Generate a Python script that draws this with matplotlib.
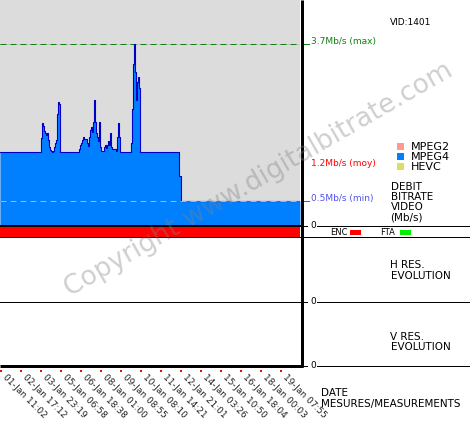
import numpy as np
import matplotlib
matplotlib.use("Agg")
import matplotlib.pyplot as plt
from matplotlib.patches import Rectangle
from matplotlib import transforms

# ---------------- data ----------------
base_rate = 1.49          # Mb/s, first period plateau
low_rate = 0.49           # Mb/s, second period plateau
burst_1 = [1.78, 2.09, 2.02, 1.92, 1.88, 1.84, 1.88, 1.74, 1.59, 1.53,
           1.51, 1.50, 1.51, 1.59, 1.68, 1.74, 2.27, 2.51, 2.47]
burst_2 = [1.55, 1.64, 1.68, 1.74, 1.80, 1.76, 1.76, 1.76, 1.68, 1.61,
           1.80, 1.94, 2.00, 1.90, 2.11, 2.56, 2.11, 1.88, 1.80, 1.72,
           2.11, 1.59, 1.51, 1.51, 1.51, 1.59, 1.64, 1.57, 1.64, 1.72,
           1.64, 1.88, 1.59, 1.55, 1.55, 1.55, 1.55, 1.51, 1.80, 2.09,
           1.80]
burst_3 = [1.68, 2.37, 3.29, 3.70, 3.13, 2.56, 2.92, 3.03, 2.80]
transition = [1.01, 1.01]
bitrate = np.array([base_rate] * 41 + burst_1 + [base_rate] * 19 + burst_2
                   + [base_rate] * 11 + burst_3 + [base_rate] * 39
                   + transition + [low_rate] * 120)

max_rate, mean_rate, min_rate = 3.7, 1.2, 0.5
date_labels = ["01-Jan 11:02", "02-Jan 17:12", "03-Jan 23:19", "05-Jan 06:58",
               "06-Jan 18:38", "08-Jan 01:00", "09-Jan 08:55", "10-Jan 08:10",
               "11-Jan 14:21", "12-Jan 21:01", "14-Jan 03:26", "15-Jan 10:50",
               "16-Jan 18:04", "18-Jan 00:03", "19-Jan 07:55"]
samples_per_tick = 20
codecs = ["MPEG2", "MPEG4", "HEVC"]
codec_colors = ["#FF9999", "#0080FF", "#DDDD66"]
vid_label = "VID:1401"

# ---------------- layout helpers (pixels) ----------------
W, H = 470, 430
PX_PER_MB = 48.92
PX = 0.72  # one pixel in points


def fr(x0, y0, x1, y1):
    return [x0 / W, 1 - y1 / H, (x1 - x0) / W, (y1 - y0) / H]


plt.rcParams["font.family"] = ["DejaVu Sans"]
fig = plt.figure(figsize=(W / 100, H / 100), dpi=100)

# ---------------- bitrate panel ----------------
ax = fig.add_axes(fr(0, 0, 300, 225))
ax.set_facecolor("#DCDCDC")
x = np.arange(len(bitrate))
ax.fill_between(x, bitrate, step="post", color="#0080FF", lw=0, zorder=2)
ax.step(x, bitrate, where="post", color="#0000C8", lw=PX * 1.1, zorder=3)
ax.set_xlim(0, 300)
ax.set_ylim(0, 225 / PX_PER_MB)
ax.axhline(max_rate, color="#C4C4C4", lw=PX, zorder=1)
ax.axhline(max_rate, color="#108010", lw=PX, ls=(0, (6, 4)), zorder=1.5)
ax.axhline(min_rate, color="#5050F0", lw=PX, zorder=4)
ax.axhline(min_rate, color="#D0A0C8", lw=PX, ls=(0, (6, 4)), zorder=4.5)
ax.set_xticks([])
ax.set_yticks([])
for s in ax.spines.values():
    s.set_visible(False)

blend = transforms.blended_transform_factory(ax.transAxes, ax.transData)
fs_small = 6.5
for val, col, txt, tick in [(max_rate, "#108010", "3.7Mb/s (max)", True),
                            (mean_rate, "#FF0000", "1.2Mb/s (moy)", False),
                            (min_rate, "#5050F0", "0.5Mb/s (min)", True)]:
    if tick:
        ax.plot([303 / 300, 309 / 300], [val, val], color=col, lw=PX,
                transform=blend, clip_on=False)
    ax.text(311 / 300, val, txt, color=col, fontsize=fs_small,
            transform=blend, ha="left", va="baseline")

# ---------------- V resolution panel (carries the date axis) ----------------
ax_v = fig.add_axes(fr(0, 302, 300, 366))
ax_v.set_xlim(0, 300)
ax_v.set_ylim(0, 1)
ax_v.patch.set_alpha(0)
for s in ax_v.spines.values():
    s.set_visible(False)
ax_v.set_yticks([])
tick_pos = np.arange(len(date_labels)) * samples_per_tick
ax_v.set_xticks(tick_pos + 7)
ax_v.set_xticklabels(date_labels, rotation=-45, ha="left", va="top",
                     rotation_mode="anchor", fontsize=fs_small, color="#222222")
ax_v.tick_params(axis="x", length=0, pad=5.0)
dot_tr = transforms.blended_transform_factory(ax_v.transData, ax_v.transAxes) + \
    transforms.ScaledTranslation(0, -5 / 100, fig.dpi_scale_trans)
ax_v.plot(tick_pos + 0.5, np.zeros(len(tick_pos)), "s", color="#FF0000",
          ms=2 * PX, mew=0, transform=dot_tr, clip_on=False)

# ---------------- overlay (frame, labels) ----------------
ov = fig.add_axes([0, 0, 1, 1], zorder=5)
ov.set_xlim(0, W)
ov.set_ylim(H, 0)
ov.axis("off")
ov.patch.set_alpha(0)

ov.add_patch(Rectangle((0, 227), 300, 9.5, color="#FF0000", lw=0))
ov.plot([0, 301], [226, 226], color="black", lw=2 * PX)
ov.plot([0, 470], [237, 237], color="black", lw=PX)
ov.plot([0, 301], [302, 302], color="black", lw=PX)
ov.plot([0, 303], [365.5, 365.5], color="black", lw=3 * PX, solid_capstyle="butt")
ov.plot([301.5, 301.5], [0, 367], color="black", lw=3 * PX, solid_capstyle="butt")
for yy in (226, 302, 366):
    ov.plot([317, 470], [yy, yy], color="black", lw=PX)
    ov.plot([303, 307], [yy, yy], color="black", lw=PX)
    ov.text(310, yy, "0", fontsize=fs_small, ha="left", va="center")

ov.text(390, 25, vid_label, fontsize=fs_small, ha="left", va="baseline")

for i, (name, col) in enumerate(zip(codecs, codec_colors)):
    yy = 143 + 10 * i
    ov.add_patch(Rectangle((397, yy), 7, 7, color=col, lw=0))
    ov.text(411, yy + 7.5, name, fontsize=8, ha="left", va="baseline")

fs_med = 7.5
for i, line in enumerate(["DEBIT", "BITRATE", "VIDEO", "(Mb/s)"]):
    ov.text(390.5, 190 + 10 * i, line, fontsize=fs_med, ha="left", va="baseline")

ov.text(330, 235, "ENC", fontsize=6, ha="left", va="baseline")
ov.add_patch(Rectangle((350, 230), 11, 5, color="#FF0000", lw=0))
ov.text(380, 235, "FTA", fontsize=6, ha="left", va="baseline")
ov.add_patch(Rectangle((400, 230), 11, 5, color="#00EE00", lw=0))

for i, line in enumerate(["H RES.", "EVOLUTION"]):
    ov.text(390.5, 268.5 + 10.5 * i, line, fontsize=fs_med, ha="left", va="baseline")
for i, line in enumerate(["V RES.", "EVOLUTION"]):
    ov.text(390.5, 340 + 10.5 * i, line, fontsize=fs_med, ha="left", va="baseline")
for i, line in enumerate(["DATE", "MESURES/MEASUREMENTS"]):
    ov.text(320.5, 396 + 10.5 * i, line, fontsize=fs_med, ha="left", va="baseline")

ov.text(70, 297, "Copyright www.digitalbitrate.com", fontsize=19, color="#808080",
        alpha=0.38, rotation=30, rotation_mode="anchor", ha="left", va="baseline")

fig.savefig("out.png", dpi=100)
